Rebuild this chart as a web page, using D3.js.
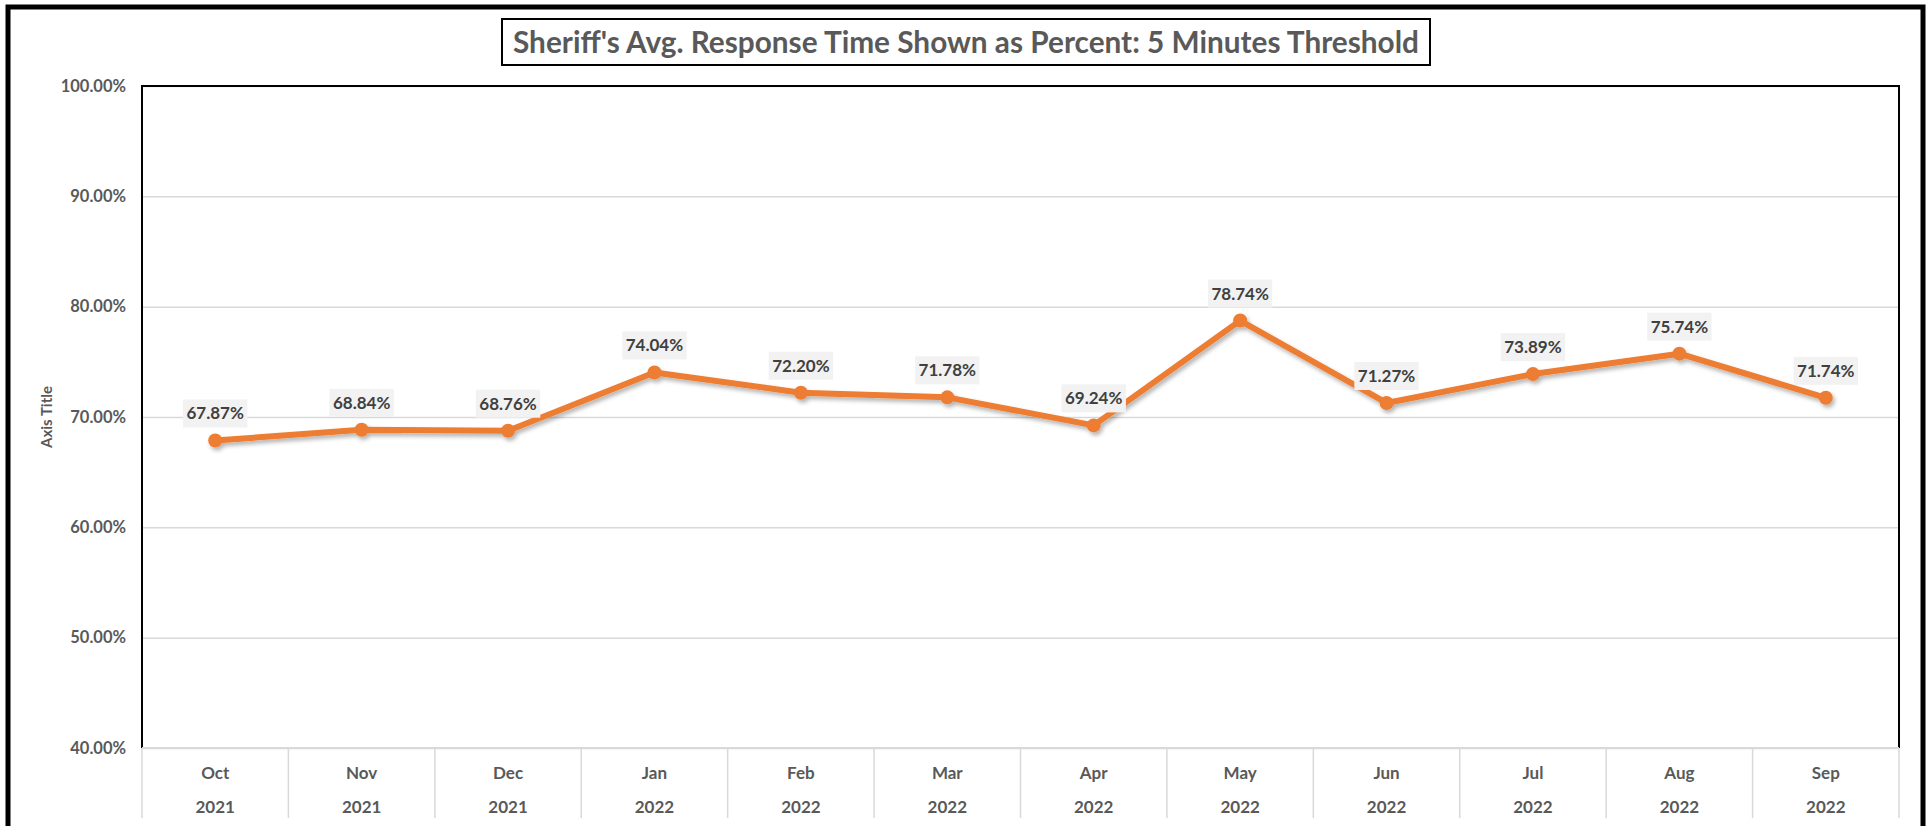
<!DOCTYPE html>
<html>
<head>
<meta charset="utf-8">
<script src="https://cdn.jsdelivr.net/npm/d3@7"></script>
<style>
  html, body { margin: 0; padding: 0; background: #fff; }
  svg { display: block; }
  text { font-family: Lato, "Open Sans", sans-serif; }
</style>
</head>
<body>
<div id="chart"></div>
<script>

// chart values
var months = ["Oct", "Nov", "Dec", "Jan", "Feb", "Mar", "Apr", "May", "Jun", "Jul", "Aug", "Sep"];
var years = ["2021", "2021", "2021", "2022", "2022", "2022", "2022", "2022", "2022", "2022", "2022", "2022"];
var values = [0.6787, 0.6884, 0.6876, 0.7404, 0.7220, 0.7178, 0.6924, 0.7874, 0.7127, 0.7389, 0.7574, 0.7174];
var y_ticks = [0.4, 0.5, 0.6, 0.7, 0.8, 0.9, 1.0];
var title_text = "Sheriff's Avg. Response Time Shown as Percent: 5 Minutes Threshold";
var y_title = "Axis Title";

var W = 1931, H = 826;
var margin = {top: 86, left: 142, right: W - 1899, bottom: H - 748};
var plot_w = W - margin.left - margin.right;
var plot_h = H - margin.top - margin.bottom;

var line_col = "#ED7D31";
var text_col = "#595959";
var grid_col = "#d9d9d9";

var svg = d3.select("#chart")
  .append("svg")
  .attr("width", W)
  .attr("height", H);

// soft shadow under the line
var defs = svg.append("defs");
defs.append("filter")
    .attr("id", "shadow")
    .attr("x", "-5%").attr("y", "-20%")
    .attr("width", "110%").attr("height", "140%")
  .append("feDropShadow")
    .attr("dx", 2).attr("dy", 3)
    .attr("stdDeviation", 2)
    .attr("flood-color", "#000")
    .attr("flood-opacity", 0.3);

svg.append("rect")
  .attr("width", W).attr("height", H)
  .attr("fill", "#fff");

// outer frame (bottom edge runs off the picture)
svg.append("rect")
  .attr("x", 8).attr("y", 7)
  .attr("width", 1915).attr("height", 840)
  .attr("fill", "none")
  .attr("stroke", "black")
  .attr("stroke-width", 5);

// scales
var x = d3.scaleBand()
  .domain(d3.range(months.length))
  .range([margin.left, margin.left + plot_w])
  .padding(0);

var y = d3.scaleLinear()
  .domain([0.4, 1.0])
  .range([margin.top + plot_h, margin.top]);

// y axis with gridlines
var yAxis = svg.append("g")
  .attr("transform", "translate(" + margin.left + ",0)")
  .call(d3.axisLeft(y)
    .tickValues(y_ticks)
    .tickFormat(d3.format(".2%"))
    .tickSize(-plot_w)
    .tickPadding(16));

yAxis.select(".domain").remove();
yAxis.selectAll(".tick line")
  .attr("stroke", grid_col)
  .attr("stroke-width", 1.5);
yAxis.selectAll(".tick text")
  .attr("fill", text_col)
  .style("font-size", "16.5px")
  .style("font-weight", "bold");

// plot frame: black on left/top/right, grey category axis at the bottom
svg.append("path")
  .attr("d", "M" + margin.left + "," + (margin.top + plot_h) +
             "V" + margin.top + "H" + (margin.left + plot_w) + "V" + (margin.top + plot_h))
  .attr("fill", "none")
  .attr("stroke", "black")
  .attr("stroke-width", 2);

svg.append("line")
  .attr("x1", margin.left).attr("x2", margin.left + plot_w)
  .attr("y1", margin.top + plot_h).attr("y2", margin.top + plot_h)
  .attr("stroke", grid_col)
  .attr("stroke-width", 2);

// multi level category axis
var xMonth = svg.append("g")
  .attr("transform", "translate(0," + (margin.top + plot_h) + ")")
  .call(d3.axisBottom(x).tickFormat(function(i){ return months[i]; }).tickSize(0).tickPadding(0));
var xYear = svg.append("g")
  .attr("transform", "translate(0," + (margin.top + plot_h) + ")")
  .call(d3.axisBottom(x).tickFormat(function(i){ return years[i]; }).tickSize(0).tickPadding(0));

[xMonth, xYear].forEach(function(g){ g.select(".domain").remove(); });
xMonth.selectAll(".tick text").attr("y", 25).attr("dy", "0.35em");
xYear.selectAll(".tick text").attr("y", 59).attr("dy", "0.35em");
[xMonth, xYear].forEach(function(g){
  g.selectAll(".tick text")
    .attr("fill", text_col)
    .style("font-size", "17px")
    .style("font-weight", "bold");
});

var edges = x.domain().map(function(i){ return x(i); }).concat([margin.left + plot_w]);
svg.append("g")
  .selectAll("line")
  .data(edges)
  .enter()
  .append("line")
    .attr("x1", function(d){ return d; })
    .attr("x2", function(d){ return d; })
    .attr("y1", margin.top + plot_h)
    .attr("y2", margin.top + plot_h + 70)
    .attr("stroke", grid_col)
    .attr("stroke-width", 1.5);

// y axis title
svg.append("text")
  .attr("transform", "translate(47," + (margin.top + plot_h / 2) + ") rotate(-90)")
  .attr("text-anchor", "middle")
  .attr("dy", "0.35em")
  .attr("fill", text_col)
  .style("font-size", "15px")
  .style("font-weight", "bold")
  .text(y_title);

// line + markers
var cx = function(d, i){ return x(i) + x.bandwidth() / 2; };
var series = svg.append("g").attr("filter", "url(#shadow)");

series.append("path")
  .datum(values)
  .attr("fill", "none")
  .attr("stroke", line_col)
  .attr("stroke-width", 6)
  .attr("stroke-linejoin", "round")
  .attr("d", d3.line().x(cx).y(function(d){ return y(d); }));

series.selectAll("circle")
  .data(values)
  .enter()
  .append("circle")
    .attr("cx", cx)
    .attr("cy", function(d){ return y(d); })
    .attr("r", 7)
    .attr("fill", line_col);

// data labels with grey boxes
var labels = svg.append("g")
  .selectAll("g")
  .data(values)
  .enter()
  .append("g")
    .attr("transform", function(d, i){ return "translate(" + cx(d, i) + "," + (y(d) - 27) + ")"; });

labels.append("text")
  .attr("text-anchor", "middle")
  .attr("dy", "0.35em")
  .attr("fill", "#404040")
  .style("font-size", "17px")
  .style("font-weight", "bold")
  .text(function(d){ return d3.format(".2%")(d); });

labels.insert("rect", "text")
  .each(function(){
    var t = d3.select(this.parentNode).select("text").node();
    var w = t.getComputedTextLength() + 7;
    d3.select(this)
      .attr("x", -w / 2).attr("y", -14)
      .attr("width", w).attr("height", 28);
  })
  .attr("fill", "#f2f2f2");

// title in a box
var title_g = svg.append("g");
title_g.append("rect")
  .attr("x", 502).attr("y", 19)
  .attr("width", 928).attr("height", 46)
  .attr("fill", "#fff")
  .attr("stroke", "black")
  .attr("stroke-width", 2);
title_g.append("text")
  .attr("x", 966).attr("y", 42)
  .attr("text-anchor", "middle")
  .attr("dy", "0.36em")
  .attr("fill", text_col)
  .attr("textLength", 906)
  .attr("lengthAdjust", "spacingAndGlyphs")
  .style("font-size", "31px")
  .style("font-weight", "bold")
  .text(title_text);

</script>
</body>
</html>
